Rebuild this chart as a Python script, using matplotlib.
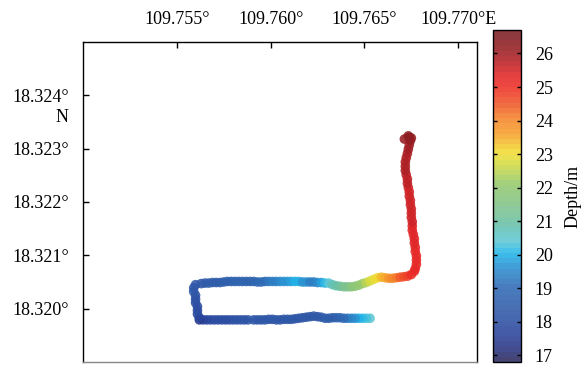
import matplotlib
matplotlib.use('Agg')
import matplotlib.pyplot as plt
from matplotlib.colors import LinearSegmentedColormap, Normalize
import numpy as np

plt.rcParams['font.family'] = ['Liberation Serif', 'DejaVu Serif']

# survey track: lon (deg E), lat (deg N), depth (m)
bottom_lon = [109.7653, 109.7651, 109.7649, 109.7647, 109.7645, 109.7643, 109.7641, 109.7639,
              109.7637, 109.7635, 109.7633, 109.7631, 109.7629, 109.7627, 109.7625, 109.7623,
              109.7621, 109.7619, 109.7617, 109.7615, 109.7613, 109.7611, 109.7609, 109.7607,
              109.7605, 109.7603, 109.7601, 109.7599, 109.7597, 109.7595, 109.7593, 109.7591,
              109.7588, 109.7586, 109.7584, 109.7582, 109.7580, 109.7578, 109.7576, 109.7574,
              109.7572, 109.7570, 109.7568, 109.7566, 109.7564, 109.7562]
bottom_lat = [18.31982, 18.31982, 18.31982, 18.31982, 18.31982, 18.31982, 18.31982, 18.31982,
              18.31983, 18.31983, 18.31983, 18.31982, 18.31982, 18.31984, 18.31985, 18.31986,
              18.31985, 18.31984, 18.31983, 18.31982, 18.31981, 18.31980, 18.31980, 18.31980,
              18.31979, 18.31979, 18.31980, 18.31980, 18.31979, 18.31979, 18.31979, 18.31979,
              18.31979, 18.31979, 18.31979, 18.31979, 18.31979, 18.31979, 18.31979, 18.31979,
              18.31979, 18.31979, 18.31979, 18.31979, 18.31979, 18.31979]
bottom_dep = [20.5, 20.3, 20.1, 19.9, 19.7, 19.5, 19.3, 19.1,
              18.9, 18.7, 18.6, 18.5, 18.4, 18.4, 18.3, 18.3,
              18.3, 18.2, 18.3, 18.3, 18.2, 18.3, 18.3, 18.2,
              18.3, 18.3, 18.2, 18.3, 18.2, 18.2, 18.2, 18.2,
              18.2, 18.1, 18.2, 18.1, 18.1, 18.1, 18.0, 18.0,
              18.0, 17.9, 17.9, 17.8, 17.6, 17.4]

left_lon = [109.7562, 109.7561, 109.7561, 109.7561, 109.7560, 109.7560,
            109.7560, 109.7559, 109.7559, 109.7560, 109.7563]
left_lat = [18.31983, 18.31990, 18.31997, 18.32004, 18.32011, 18.32018,
            18.32025, 18.32032, 18.32039, 18.32045, 18.32047]
left_dep = [17.6, 17.8, 17.9, 18.0, 18.0, 18.1, 18.1, 18.2, 18.2, 18.3, 18.3]

top_lon = [109.7565, 109.7567, 109.7569, 109.7571, 109.7573, 109.7575, 109.7577, 109.7579,
           109.7581, 109.7583, 109.7585, 109.7587, 109.7589, 109.7591, 109.7593, 109.7595,
           109.7597, 109.7599, 109.7601, 109.7603, 109.7605, 109.7607, 109.7609, 109.7611,
           109.7613, 109.7615, 109.7617, 109.7619, 109.7621, 109.7623, 109.7625, 109.7627,
           109.7629, 109.7631, 109.7633, 109.7635, 109.7637, 109.7639, 109.7641, 109.7643,
           109.7645, 109.7647, 109.7649, 109.7651, 109.7653, 109.7655, 109.7657, 109.7659,
           109.7661, 109.7663, 109.7665, 109.7667, 109.7669, 109.7671, 109.7673, 109.7675,
           109.76766]
top_lat = [18.32048, 18.32048, 18.32049, 18.32049, 18.32049, 18.32050, 18.32051, 18.32051,
           18.32051, 18.32051, 18.32051, 18.32051, 18.32051, 18.32051, 18.32050, 18.32050,
           18.32051, 18.32051, 18.32051, 18.32051, 18.32051, 18.32051, 18.32051, 18.32051,
           18.32051, 18.32051, 18.32050, 18.32050, 18.32050, 18.32050, 18.32049, 18.32049,
           18.32048, 18.32048, 18.32045, 18.32043, 18.32042, 18.32041, 18.32041, 18.32041,
           18.32042, 18.32044, 18.32047, 18.32049, 18.32052, 18.32055, 18.32058, 18.32059,
           18.32058, 18.32057, 18.32057, 18.32058, 18.32059, 18.32060, 18.32061, 18.32064,
           18.32070]
top_dep = [18.4, 18.4, 18.5, 18.5, 18.5, 18.6, 18.6, 18.6,
           18.7, 18.7, 18.7, 18.8, 18.8, 18.8, 18.9, 19.0,
           19.1, 19.2, 19.3, 19.4, 19.5, 19.6, 19.7, 19.8,
           19.9, 19.9, 19.7, 19.6, 19.4, 19.3, 19.5, 19.8,
           20.1, 20.4, 20.7, 20.9, 21.1, 21.3, 21.4, 21.6,
           21.8, 22.0, 22.2, 22.4, 22.7, 22.9, 23.1, 23.3,
           23.6, 23.8, 24.0, 24.2, 24.4, 24.6, 24.8, 25.0,
           25.1]

right_lon = [109.76771, 109.76777, 109.76777, 109.76777, 109.76771, 109.76771, 109.76766,
             109.76766, 109.76761, 109.76755, 109.76755, 109.76755, 109.76750, 109.76750,
             109.76750, 109.76745, 109.76745, 109.76739, 109.76739, 109.76734, 109.76729,
             109.76729, 109.76723, 109.76718, 109.76718, 109.76718, 109.76723, 109.76729,
             109.76734, 109.76739, 109.76745, 109.76713, 109.76750, 109.76739, 109.76734]
right_lat = [18.32075, 18.32083, 18.32091, 18.32099, 18.32107, 18.32115, 18.32123,
             18.32131, 18.32139, 18.32147, 18.32155, 18.32163, 18.32171, 18.32179,
             18.32187, 18.32195, 18.32203, 18.32211, 18.32219, 18.32227, 18.32235,
             18.32243, 18.32251, 18.32259, 18.32267, 18.32275, 18.32283, 18.32291,
             18.32299, 18.32307, 18.32315, 18.32318, 18.32320, 18.32321, 18.32324]
right_dep = [25.2, 25.2, 25.3, 25.3, 25.3, 25.3, 25.4,
             25.4, 25.4, 25.4, 25.4, 25.5, 25.5, 25.5,
             25.5, 25.5, 25.6, 25.6, 25.6, 25.6, 25.7,
             25.7, 25.7, 25.8, 25.8, 25.8, 25.9, 25.9,
             26.0, 26.0, 26.1, 26.1, 26.2, 26.2, 26.3]

xticks = [109.755, 109.760, 109.765, 109.770]
xticklabels = ['109.755°', '109.760°', '109.765°', '109.770°E']
yticks = [18.320, 18.321, 18.322, 18.323, 18.324]
yticklabels = ['18.320°', '18.321°', '18.322°', '18.323°', '18.324°']
cbar_ticks = [17, 18, 19, 20, 21, 22, 23, 24, 25, 26]

# colour scale as seen on the colour bar (value, colour)
cmap_stops = [(16.8, '#2c2a5e'), (17.1, '#293480'), (17.6, '#2a449c'), (18.3, '#2e5aa8'),
              (19.0, '#2e6ab5'), (19.6, '#2a8fd0'), (20.0, '#1fb6ea'), (20.4, '#5ec7d5'),
              (20.9, '#66c0a8'), (21.5, '#83c386'), (22.1, '#93c96d'), (22.6, '#c9d84a'),
              (23.05, '#f1df33'), (23.6, '#f7a32b'), (24.1, '#f4832a'), (24.55, '#ef5529'),
              (25.05, '#ee2e27'), (25.45, '#e02527'), (25.85, '#b21f24'), (26.3, '#8f1d22'),
              (26.7, '#7a1e22')]
vmin, vmax = 16.8, 26.7

lon = np.concatenate([bottom_lon, left_lon, top_lon, right_lon])
lat = np.concatenate([bottom_lat, left_lat, top_lat, right_lat])
dep = np.concatenate([bottom_dep, left_dep, top_dep, right_dep])

cmap = LinearSegmentedColormap.from_list(
    'depth', [((v - vmin) / (vmax - vmin), c) for v, c in cmap_stops], N=64)
norm = Normalize(vmin=vmin, vmax=vmax)

fig = plt.figure(figsize=(5.84, 3.65), dpi=100)
ax = fig.add_axes([83 / 584, 1 - 362 / 365, 394 / 584, 320 / 365])
cax = fig.add_axes([493 / 584, 1 - 362 / 365, 28 / 584, 332 / 365])

sc = ax.scatter(lon, lat, c=dep, cmap=cmap, norm=norm, s=48, marker='o',
                edgecolors='none', alpha=0.88)

ax.set_xlim(109.750, 109.771)
ax.set_ylim(18.319, 18.325)
ax.xaxis.tick_top()
ax.set_xticks(xticks)
ax.set_xticklabels(xticklabels)
ax.set_yticks(yticks)
ax.set_yticklabels(yticklabels)
ax.tick_params(direction='in', length=4, width=1, labelsize=13, pad=10)
ax.tick_params(axis='x', top=True, bottom=False)
for sp in ax.spines.values():
    sp.set_linewidth(1)
ax.spines['bottom'].set_color('#888888')
fig.text(68 / 584, 1 - 117 / 365, 'N', ha='right', va='center', fontsize=13)

cb = fig.colorbar(sc, cax=cax)
cb.set_ticks(cbar_ticks)
cb.ax.tick_params(direction='in', left=True, right=True, length=3, width=1,
                  labelsize=13, pad=10)
cb.outline.set_linewidth(1)
cb.set_label('Depth/m', fontsize=13, labelpad=8)

fig.savefig('out.png', dpi=100)
